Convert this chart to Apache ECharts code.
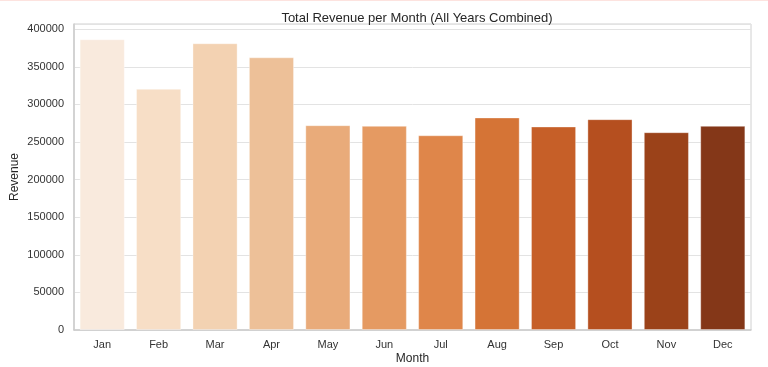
<!DOCTYPE html>
<html>
<head>
<meta charset="utf-8">
<script src="https://cdn.jsdelivr.net/npm/echarts@6/dist/echarts.min.js"></script>
<style>
html,body{margin:0;padding:0;background:#fff;}
body{border-top:1px solid #fde3df;box-sizing:border-box;}
#c{width:768px;height:366px;}
</style>
</head>
<body>
<div id="c"></div>
<script>
const months = ['Jan','Feb','Mar','Apr','May','Jun','Jul','Aug','Sep','Oct','Nov','Dec'];
const revenue = [386700, 320800, 381400, 362700, 272400, 271500, 259000, 282700, 270700, 280400, 263100, 271500];
const barColors = ['#f9eadd','#f7dec6','#f3d2b2','#edc098','#e9ab7a','#e59a62','#df864a','#d57436','#c65f28','#b54f1f','#9b4219','#843718'];
const yTicks = [0, 50000, 100000, 150000, 200000, 250000, 300000, 350000, 400000];

const chart = echarts.init(document.getElementById('c'), null, {renderer:'canvas'});
chart.setOption({
  animation: false,
  backgroundColor: '#ffffff',
  textStyle: {fontFamily: 'Liberation Sans, Arial, sans-serif'},
  title: {
    text: 'Total Revenue per Month (All Years Combined)',
    left: 412, top: 6, textAlign: 'center',
    textStyle: {fontSize: 13, fontWeight: 'normal', color: '#262626', fontFamily: 'Liberation Sans, Arial, sans-serif'}
  },
  grid: {left: 74, right: 17, top: 23, bottom: 37, show: true, borderColor: '#d0d0d0', borderWidth: 1,
    outerBoundsMode: 'none', containLabel: false},
  xAxis: {
    type: 'category',
    data: months,
    name: 'Month', nameLocation: 'middle', nameGap: 23, nameMoveOverlap: false,
    nameTextStyle: {fontSize: 12, color: '#262626'},
    axisLine: {show: true, lineStyle: {color: '#cccccc', width: 1.5}},
    axisTick: {show: false},
    axisLabel: {fontSize: 11, color: '#333333', margin: 9}
  },
  yAxis: {
    type: 'value',
    min: 0, max: 407000, interval: 50000,
    name: 'Revenue', nameLocation: 'middle', nameGap: 53, nameMoveOverlap: false,
    nameTextStyle: {fontSize: 12, color: '#262626'},
    axisLine: {show: true, lineStyle: {color: '#cccccc', width: 1.5}},
    axisTick: {show: false},
    axisLabel: {fontSize: 11, color: '#333333', margin: 10, showMaxLabel: false,
      formatter: v => yTicks.includes(v) ? String(v) : ''},
    splitLine: {show: true, lineStyle: {color: '#e3e3e3', width: 1}}
  },
  series: [{
    type: 'bar',
    data: revenue.map((v, i) => ({value: v, itemStyle: {color: barColors[i]}})),
    barCategoryGap: '20%',
    itemStyle: {borderColor: 'rgba(255,255,255,0.35)', borderWidth: 1}
  }]
});
</script>
</body>
</html>
